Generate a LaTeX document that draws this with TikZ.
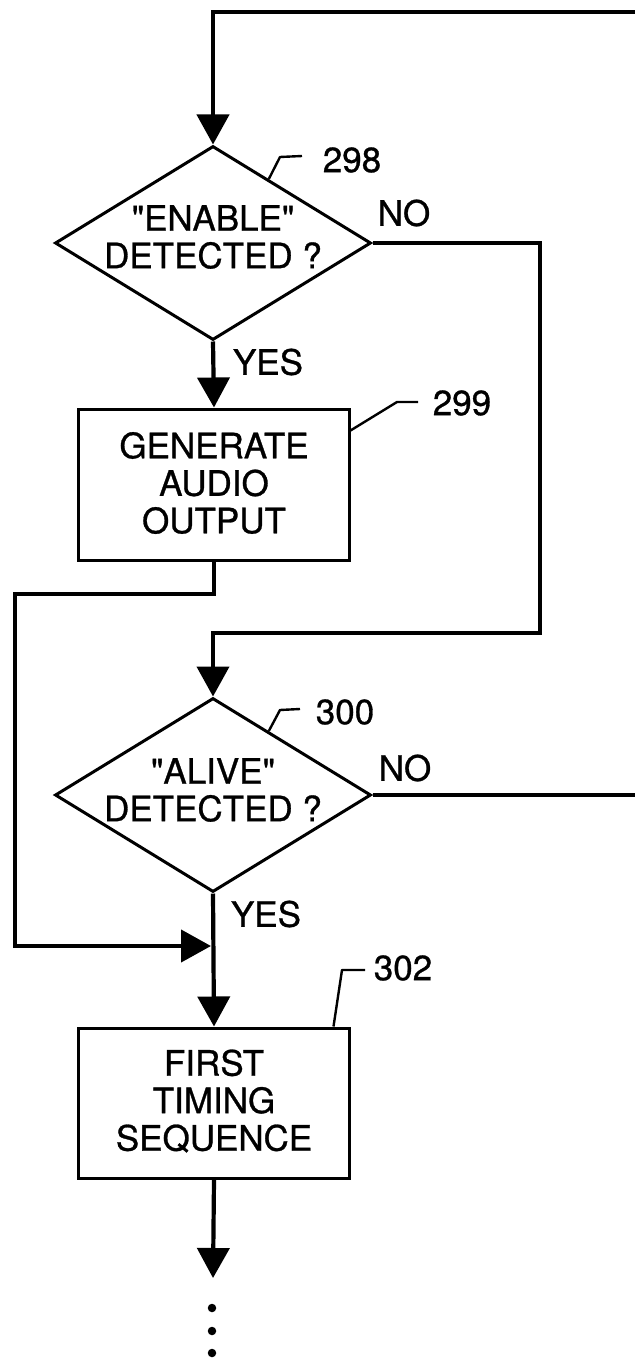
\documentclass[tikz,border=0pt]{standalone}
\usepackage{fontspec}
\setmainfont{TeX Gyre Heros}[FakeBold=0.8]
\usetikzlibrary{shapes.geometric,arrows.meta,calc}
\begin{document}
\begin{tikzpicture}[x=1bp,y=-1bp,
  conn/.style={line width=4.2bp,line join=miter},
  arr/.style={conn,-{Triangle[width=32bp,length=30bp]}},
  dshape/.style={draw,line width=3bp,diamond,minimum width=316bp,minimum height=194bp,inner sep=0pt},
  bshape/.style={draw,line width=3bp,rectangle,minimum width=270bp,inner sep=0pt},
  txt/.style={align=center,font=\fontsize{35bp}{37.5bp}\selectfont,inner sep=0pt},
  lbl/.style={font=\fontsize{35bp}{37.5bp}\selectfont,inner sep=0pt},
  leader/.style={line width=2.4bp,line join=round},
  dot/.style={circle,fill=black,minimum size=8.5bp,inner sep=0pt}]
\useasboundingbox[fill=white] (0,0) rectangle (635,1360);

% shapes
\node[dshape] (d1) at (213,243) {};
\node[txt] (t1) at (213,237) {\textquotedbl ENABLE\textquotedbl\\DETECTED ?};
\node[bshape,minimum height=151bp] (b1) at (214,484.5) {};
\node[txt] (t2) at (214,483) {GENERATE\\AUDIO\\OUTPUT};
\node[dshape] (d2) at (213,795) {};
\node[txt] (t3) at (213,790) {\textquotedbl ALIVE\textquotedbl\\DETECTED ?};
\node[bshape,minimum height=150bp] (b2) at (214,1103) {};
\node[txt] (t4) at (214,1101) {FIRST\\TIMING\\SEQUENCE};

% labels
\node[lbl] (n298) at (352,160) {298};
\node[lbl] (n299) at (462,403) {299};
\node[lbl] (n300) at (345,712) {300};
\node[lbl] (n302) at (403,968) {302};
\node[lbl] (no1) at (404,213) {NO};
\node[lbl] (no2) at (405,768) {NO};
\node[lbl] (yes1) at (268,362) {YES};
\node[lbl] (yes2) at (266,914) {YES};

% coordinates
\coordinate (topr) at (637,12);
\coordinate (c1) at (540,633);
\coordinate (f1) at (15,594);
\coordinate (f2) at (15,946);
\coordinate (j1) at (211,946);
\coordinate (r2) at (637,795);
\coordinate (endc) at (213,1278);

% connectors
\draw[arr] (topr) -| (d1.north);
\draw[arr] (d1.east) -| (c1) -| (d2.north);
\draw[arr] (d1.south) -- (b1.north);
\draw[arr] (b1.south) |- (f1) -- (f2) -- (j1);
\draw[conn] (d2.east) -- (r2);
\draw[arr] (d2.south) -- (b2.north);
\draw[arr] (b2.south) -- (endc);

% leaders
\draw[leader] ($(d1.north)!0.35!(d1.east)$) -- (280,157) -- (302,156);
\draw[leader] ($(b1.north east)+(0,23)$) -- (397,402) -- (418,402);
\draw[leader] ($(d2.north)!0.35!(d2.east)$) -- (280,710) -- (300,709);
\draw[leader] ($(b2.north east)+(-17,0)$) -- (342,970) -- (365,970);

% dots
\node[dot] (dt1) at (212,1308) {};
\node[dot] (dt2) at (212,1331) {};
\node[dot] (dt3) at (212,1353) {};
\end{tikzpicture}
\end{document}
